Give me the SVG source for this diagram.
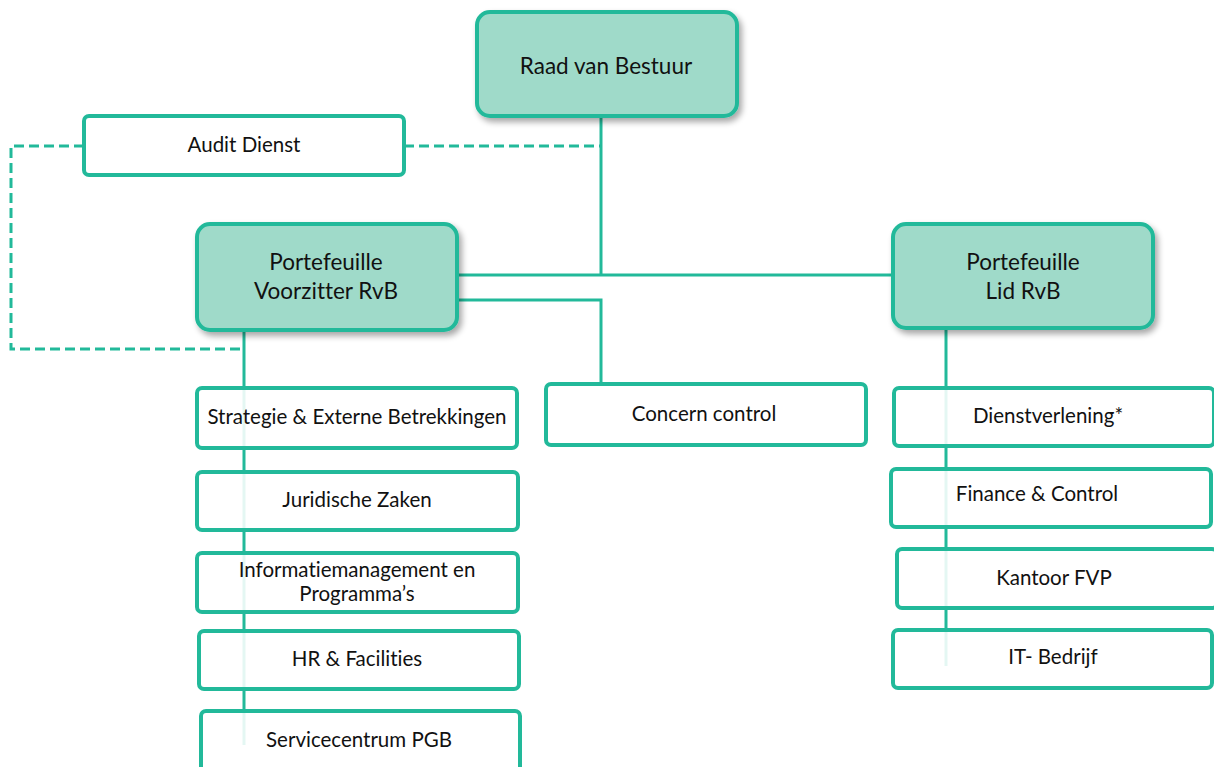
<svg xmlns="http://www.w3.org/2000/svg" width="1214" height="767" viewBox="0 0 1214 767">
<defs>
<filter id="sh" x="-10%" y="-10%" width="125%" height="130%">
<feGaussianBlur in="SourceAlpha" stdDeviation="3"/>
<feOffset dx="3" dy="4" result="b"/>
<feComponentTransfer><feFuncA type="linear" slope="0.35"/></feComponentTransfer>
<feMerge><feMergeNode/><feMergeNode in="SourceGraphic"/></feMerge>
</filter>
</defs>
<style>
.main{fill:#9fdac9;stroke:#22b99a;stroke-width:4}
.sub{fill:#ffffff;fill-opacity:0.88;stroke:#22b99a;stroke-width:4}
.ln{fill:none;stroke:#22b99a;stroke-width:3}
.ds{fill:none;stroke:#22b99a;stroke-width:3;stroke-dasharray:10,5}
text{font-family:Lato,"Liberation Sans",sans-serif;fill:#111;text-anchor:middle;font-variant-ligatures:none}
.t1{font-size:22.5px}
.t2{font-size:20.5px}
</style>
<rect width="1214" height="767" fill="#fff"/>
<g id="connectors">
<path class="ds" d="M84,146 H11 V349 H244"/>
<path class="ds" d="M404,146 H601"/>
<path class="ln" d="M601,116 V275"/>
<path class="ln" d="M457,275 H895"/>
<path class="ln" d="M457,300 H601 V384"/>
<path class="ln" d="M244,330 V745"/>
<path class="ln" d="M946,328 V666"/>
</g>
<g id="raad"><rect class="main" filter="url(#sh)" x="477" y="12" width="260" height="104" rx="13"/><text class="t1" x="606" y="74">Raad van Bestuur</text></g>
<g id="audit"><rect class="sub" x="84" y="116" width="320" height="59" rx="5"/><text class="t2" x="244" y="152">Audit Dienst</text></g>
<g id="voorzitter"><rect class="main" filter="url(#sh)" x="197" y="224" width="260" height="106" rx="13"/><text class="t1" x="326" y="270">Portefeuille</text><text class="t1" x="326" y="299">Voorzitter RvB</text></g>
<g id="lid"><rect class="main" filter="url(#sh)" x="893" y="224" width="260" height="104" rx="13"/><text class="t1" x="1023" y="270">Portefeuille</text><text class="t1" x="1023" y="299">Lid RvB</text></g>
<g id="concern"><rect class="sub" x="546" y="384" width="320" height="61" rx="5"/><text class="t2" x="704" y="421">Concern control</text></g>
<g id="strategie"><rect class="sub" x="197" y="388" width="320" height="60" rx="5"/><text class="t2" x="357" y="424">Strategie &amp; Externe Betrekkingen</text></g>
<g id="juridisch"><rect class="sub" x="197" y="472" width="321" height="58" rx="5"/><text class="t2" x="357" y="507">Juridische Zaken</text></g>
<g id="informatie"><rect class="sub" x="197" y="553" width="321" height="59" rx="5"/><text class="t2" x="357" y="577">Informatiemanagement en</text><text class="t2" x="357" y="601">Programma’s</text></g>
<g id="hr"><rect class="sub" x="199" y="631" width="320" height="58" rx="5"/><text class="t2" x="357" y="666">HR &amp; Facilities</text></g>
<g id="service"><rect class="sub" x="201" y="711" width="319" height="62" rx="5"/><text class="t2" x="359" y="747">Servicecentrum PGB</text></g>
<g id="dienst"><rect class="sub" x="894" y="388" width="320" height="58" rx="5"/><text class="t2" x="1048" y="423">Dienstverlening*</text></g>
<g id="finance"><rect class="sub" x="891" y="469" width="320" height="58" rx="5"/><text class="t2" x="1037" y="501">Finance &amp; Control</text></g>
<g id="kantoor"><rect class="sub" x="897" y="549" width="320" height="59" rx="5"/><text class="t2" x="1054" y="585">Kantoor FVP</text></g>
<g id="it"><rect class="sub" x="893" y="630" width="319" height="58" rx="5"/><text class="t2" x="1053" y="664">IT- Bedrijf</text></g>
</svg>
